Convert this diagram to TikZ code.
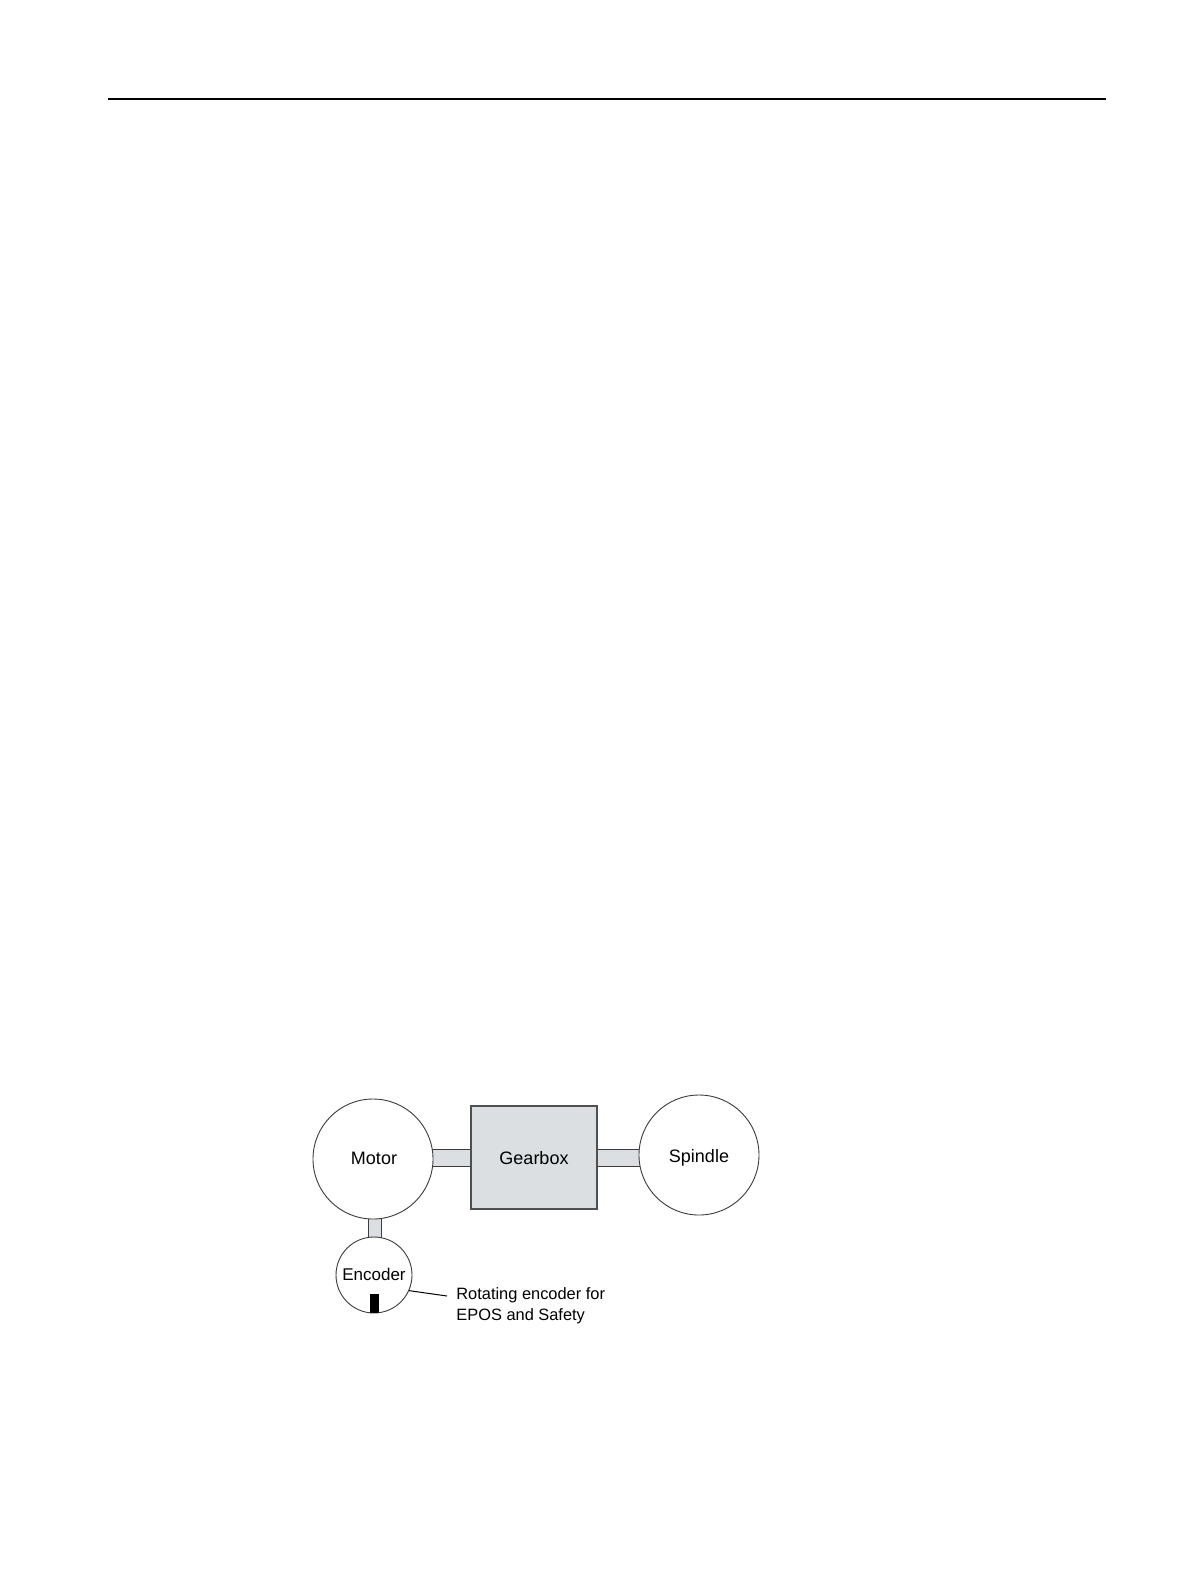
\documentclass[tikz,border=0pt]{standalone}
\usepackage{fontspec}
\setmainfont{Liberation Sans}
\definecolor{partfill}{RGB}{219,223,226}
\definecolor{edge}{RGB}{60,60,60}
\begin{document}
\begin{tikzpicture}[x=0.5pt,y=-0.5pt,
  wheel/.style={circle,draw=edge,line width=0.45pt,fill=white,inner sep=0pt},
  shaft/.style={fill=partfill,draw=edge,line width=0.45pt},
  box/.style={fill=partfill,draw=edge!90,line width=0.7pt},
  biglabel/.style={font=\fontsize{9}{11}\selectfont,inner sep=0pt,anchor=base},
  smalllabel/.style={font=\fontsize{8.5}{10.5}\selectfont,inner sep=0pt,anchor=base},
  notelabel/.style={font=\fontsize{8.2}{10.5}\selectfont,inner sep=0pt,anchor=base west}]
\useasboundingbox (0,0) rectangle (1191,1587);
\draw[line width=0.8pt] (108,99) -- (1106,99);
% shafts
\filldraw[shaft] (420,1149) rectangle (480,1166);
\filldraw[shaft] (590,1149) rectangle (650,1166);
\filldraw[shaft] (368,1210) rectangle (381,1245);
% parts
\node[wheel,minimum size=60pt] (motor) at (373,1159) {};
\node[wheel,minimum size=60pt] (spindle) at (699,1155) {};
\node[wheel,minimum size=38pt] (encoder) at (374,1275) {};
\filldraw[box] (471,1106) rectangle (597,1209);
\coordinate (gearbox) at (534,1158);
% black marker
\begin{scope}
\clip (374,1275) circle (19pt);
\fill[black] (370,1294) rectangle (379,1320);
\end{scope}
% labels
\node[biglabel] (motorlbl) at (374,1164) {Motor};
\node[biglabel] (gearlbl) at (534,1164) {Gearbox};
\node[biglabel] (spinlbl) at (699,1162) {Spindle};
\node[smalllabel] (enclbl) at (374,1280) {Encoder};
\node[notelabel] (rot1) at (456,1299) {Rotating encoder for};
\node[notelabel] (rot2) at (456,1320) {EPOS and Safety};
\coordinate (leadend) at (447,1296);
\draw[line width=0.5pt] (encoder.-24) -- (leadend);
\end{tikzpicture}
\end{document}
